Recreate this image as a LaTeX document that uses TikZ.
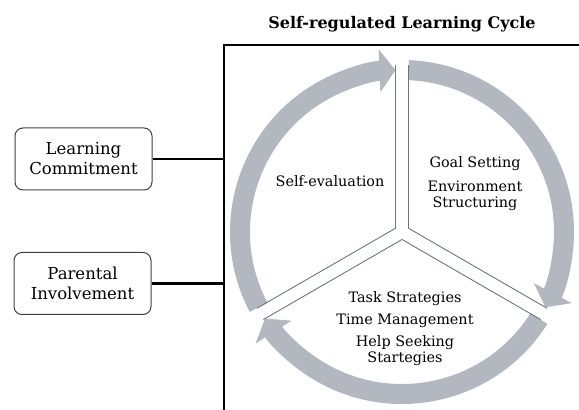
\documentclass[tikz,border=0pt]{standalone}
\usepackage{fontspec}
\setmainfont{DejaVu Serif}
\usetikzlibrary{arrows.meta,calc}

\definecolor{ringgray}{HTML}{B3B7BF}
\definecolor{divgray}{HTML}{6C7486}

\begin{document}
\begin{tikzpicture}[x=1pt, y=1pt,
    factor/.style = {draw=black!75, line width=1pt, rounded corners=8pt, minimum width=137pt, minimum height=62pt, align=center, font=\fontsize{16.5}{20}\selectfont},
    stage/.style = {align=center, anchor=base, font=\fontsize{14.4}{16}\selectfont},
    ring/.style = {ringgray, line width=20pt, -{Triangle[length=16pt, width=42pt]}},
    divider/.style = {divgray, line width=0.9pt},
    link/.style = {line width=2.6pt}]
        \useasboundingbox (0,0) rectangle (579,410);

        \node[font=\bfseries\fontsize{16}{18}\selectfont, anchor=base] (title) at (402,381) {Self-regulated Learning Cycle};

        % frame round the cycle
        \draw[link] (224,0) |- (579,365);
        \coordinate (commitjoin) at (224,251);
        \coordinate (parentjoin) at (224,126.5);

        \node[factor] (commit) at (83.5,251) {Learning\\Commitment};
        \node[factor] (parent) at (82.5,126.5) {Parental\\Involvement};

        \draw[link] (commit) -- (commitjoin);
        \draw[link] (parent) -- (parentjoin);

        % the three arrows of the cycle
        \coordinate (c) at (402,178);
        \draw[ring] ($(c)+(207.7:162)$) arc[start angle=207.7, end angle=92.3, radius=162];
        \draw[ring] ($(c)+(87.7:162)$) arc[start angle=87.7, end angle=-27.7, radius=162];
        \draw[ring] ($(c)+(-32.3:162)$) arc[start angle=-32.3, end angle=-147.7, radius=162];

        % Y shaped split
        \draw[divider] ($(c)+(150:7.5)+(90:163)$) -- ($(c)+(150:7.5)$) -- ($(c)+(150:7.5)+(210:160)$);
        \draw[divider] ($(c)+(30:7.5)+(90:163)$) -- ($(c)+(30:7.5)$) -- ($(c)+(30:7.5)+(-30:160)$);
        \draw[divider] ($(c)+(270:7.5)+(210:160)$) -- ($(c)+(270:7.5)$) -- ($(c)+(270:7.5)+(-30:160)$);

        % base of a stacked label is its last line
        \node[stage] (selfeval) at (330,223.3) {Self-evaluation};
        \node[stage] (goals) at (475,202) {Goal Setting\\[8pt]Environment\\Structuring};
        \node[stage] (tasks) at (405,47) {Task Strategies\\[6pt]Time Management\\[6pt]Help Seeking\\Startegies};

    \end{tikzpicture}
\end{document}
